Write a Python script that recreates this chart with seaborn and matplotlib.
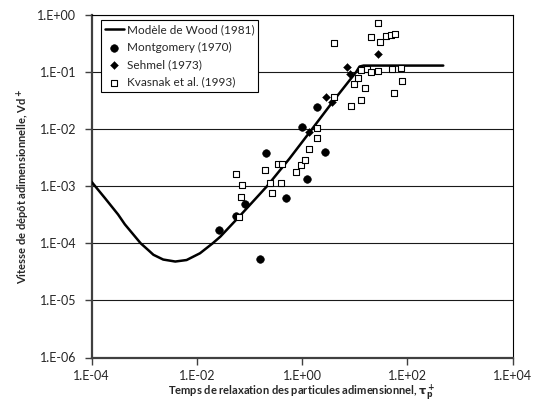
import numpy as np
import pandas as pd
import seaborn as sns
import matplotlib.pyplot as plt
from matplotlib.ticker import FixedLocator, FuncFormatter, NullLocator

# Wood (1981) model curve
wood_tau = [1.0e-4, 1.8e-4, 3.2e-4, 4.3e-4, 8.6e-4, 1.2e-3, 1.5e-3, 2.3e-3, 3.9e-3, 6.4e-3,
            1.15e-2, 2.0e-2, 2.8e-2, 6.3e-2, 0.215, 0.577, 1.54, 4.04, 10.6, 12.3, 14.7, 480]
wood_vd = [1.2e-3, 6.2e-4, 3.2e-4, 2.15e-4, 1.0e-4, 7.6e-5, 6.3e-5, 5.2e-5, 4.8e-5, 5.1e-5,
           6.7e-5, 1.0e-4, 1.31e-4, 2.9e-4, 1.0e-3, 3.06e-3, 1.0e-2, 3.24e-2, 0.1, 0.125, 0.13, 0.13]

# Montgomery (1970)
mont_tau = [0.0264, 0.0548, 0.0822, 0.206, 0.158, 0.501, 1.24, 1.0, 2.76, 1.89]
mont_vd = [1.71e-4, 3.01e-4, 4.83e-4, 3.75e-3, 5.42e-5, 6.35e-4, 1.32e-3, 1.07e-2, 3.98e-3, 2.44e-2]

# Sehmel (1973)
sehmel_tau = [1.37, 2.84, 3.65, 7.13, 7.95, 28.0]
sehmel_vd = [8.8e-3, 0.037, 0.0303, 0.123, 0.0925, 0.205]

# Kvasnak et al. (1993)
kvas_tau = [0.0548, 0.0721, 0.0692, 0.0634, 0.197, 0.249, 0.268, 0.356, 0.421, 0.393,
            0.75, 0.966, 1.135, 1.38, 1.89, 1.92, 4.03, 4.12, 8.6, 9.68, 11.7, 13.0,
            13.1, 15.5, 17.3, 20.1, 27.3, 20.1, 27.3, 29.8, 39.2, 48.8, 58.1, 50.3,
            74.6, 80.0, 56.4]
kvas_vd = [1.64e-3, 1.06e-3, 6.48e-4, 2.93e-4, 1.95e-3, 1.13e-3, 7.7e-4, 2.48e-3, 2.48e-3, 1.13e-3,
           1.80e-3, 2.33e-3, 2.88e-3, 4.55e-3, 7.0e-3, 1.06e-2, 0.0362, 0.323, 0.0258, 0.061, 0.0772, 0.109,
           0.0318, 0.0522, 0.112, 0.1016, 0.1057, 0.407, 0.733, 0.340, 0.424, 0.441, 0.459, 0.1146,
           0.118, 0.0698, 0.0435]

x_ticks = [1e-4, 1e-2, 1e0, 1e2, 1e4]
y_ticks = [1e-6, 1e-5, 1e-4, 1e-3, 1e-2, 1e-1, 1e0]

sns.set_style("white")
plt.rcParams['font.family'] = ['Lato', 'DejaVu Sans']
plt.rcParams['mathtext.fontset'] = 'dejavusans'

fig = plt.figure(figsize=(5.4, 4.05), dpi=100)
ax = fig.add_axes([91.5 / 540, 1 - 357.5 / 405, 421.2 / 540, 342.5 / 405])
ax.set_xscale('log')
ax.set_yscale('log')

# horizontal gridlines
for yv in y_ticks:
    ax.axhline(yv, color='#1a1a1a', lw=0.8, zorder=0)

sns.lineplot(x=wood_tau, y=wood_vd, color='black', lw=1.8, sort=False,
             estimator=None, ax=ax, label='Modèle de Wood (1981)', zorder=3)
sns.scatterplot(x=mont_tau, y=mont_vd, marker='o', s=30, color='black',
                edgecolor='black', ax=ax, label='Montgomery (1970)', zorder=4)
sns.scatterplot(x=sehmel_tau, y=sehmel_vd, marker='D', s=16, color='black',
                edgecolor='black', ax=ax, label='Sehmel (1973)', zorder=4)
sns.scatterplot(x=kvas_tau, y=kvas_vd, marker='s', s=18, color='white',
                edgecolor='black', linewidth=0.8, ax=ax, label='Kvasnak et al. (1993)', zorder=4)

ax.set_xlim(1e-4, 1e4)
ax.set_ylim(1e-6, 1e0)
ax.xaxis.set_major_locator(FixedLocator(x_ticks))
ax.yaxis.set_major_locator(FixedLocator(y_ticks))
ax.xaxis.set_minor_locator(NullLocator())
ax.yaxis.set_minor_locator(NullLocator())
fmt = FuncFormatter(lambda v, p: f"1.E{int(round(np.log10(v))):+03d}")
ax.xaxis.set_major_formatter(fmt)
ax.yaxis.set_major_formatter(fmt)
ax.tick_params(axis='both', which='major', direction='out', length=5, width=1,
               color='#404040', labelsize=9, pad=4, left=True, bottom=True)
ax.tick_params(axis='y', pad=6)

for side in ['left', 'bottom']:
    ax.spines[side].set_color('#404040')
    ax.spines[side].set_linewidth(1.6)
for side in ['top', 'right']:
    ax.spines[side].set_color('black')
    ax.spines[side].set_linewidth(0.8)

ax.set_xlabel(r'Temps de relaxation des particules adimensionnel, $\mathbf{\tau_p^+}$',
              fontsize=8, fontweight='bold')
ax.xaxis.set_label_coords(0.5, -0.071)
ax.set_ylabel(r'Vitesse de dépôt adimensionnelle, Vd$\mathbf{^+}$',
              fontsize=8, fontweight='bold', labelpad=4)

leg = ax.legend(loc='upper left', bbox_to_anchor=(0.022, 0.985), borderaxespad=0,
                frameon=True, fancybox=False, edgecolor='black', fontsize=8.5,
                handlelength=1.6, handletextpad=0.25, borderpad=0.35, labelspacing=0.55)
leg.get_frame().set_linewidth(0.8)
leg.get_frame().set_alpha(1)

fig.savefig('out.png', dpi=100)
